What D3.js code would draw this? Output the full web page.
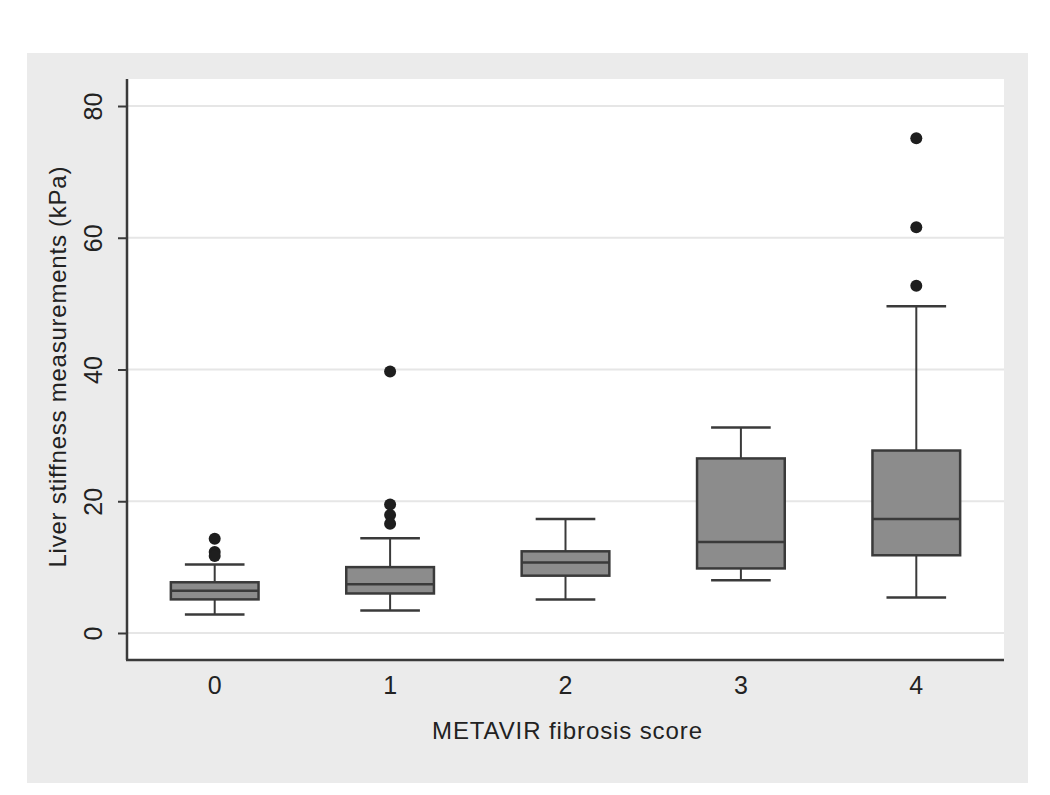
<!DOCTYPE html>
<html lang="en">
<head>
<meta charset="UTF-8">
<title>chart</title>
<style>
  body { margin: 0; background: #fff; }
  svg text { font-family: "Liberation Sans", Arial, sans-serif; fill: #222; }
</style>
</head>
<body>
<script src="https://d3js.org/d3.v7.min.js"></script>
<script>
// data
const categories = ['0', '1', '2', '3', '4'];
const whiskerLow = [2.8, 3.4, 5.1, 8.0, 5.4];
const q1 = [5.1, 6.0, 8.7, 9.8, 11.8];
const median = [6.4, 7.4, 10.7, 13.8, 17.3];
const q3 = [7.7, 10.0, 12.4, 26.5, 27.7];
const whiskerHigh = [10.4, 14.4, 17.3, 31.2, 49.6];
const outliers = [
  [14.3, 12.3, 11.7],
  [39.7, 19.5, 17.9, 16.6],
  [],
  [],
  [75.1, 61.6, 52.7]
];
const yTicks = [0, 20, 40, 60, 80];

const width = 1050, height = 795;
const svg = d3.select('body').append('svg')
  .attr('width', width)
  .attr('height', height);

// grey outer panel
svg.append('rect')
  .attr('x', 27).attr('y', 53)
  .attr('width', 1001).attr('height', 730)
  .attr('fill', '#ebebeb');

const plotL = 127, plotR = 1004, plotT = 79, plotB = 660;

// white plot region
svg.append('rect')
  .attr('x', plotL).attr('y', plotT)
  .attr('width', plotR - plotL).attr('height', plotB - plotT)
  .attr('fill', '#fff');

const x = d3.scaleBand().domain(categories).range([plotL, plotR]).padding(0);
const y = d3.scaleLinear().domain([-4.1, 84.1]).range([plotB, plotT]);

// gridlines
svg.append('g').selectAll('line')
  .data(yTicks)
  .join('line')
  .attr('x1', plotL).attr('x2', plotR)
  .attr('y1', d => y(d)).attr('y2', d => y(d))
  .attr('stroke', '#e6e6e6')
  .attr('stroke-width', 2);

const boxes = categories.map((c, i) => ({
  c, lo: whiskerLow[i], q1: q1[i], med: median[i], q3: q3[i], hi: whiskerHigh[i], out: outliers[i]
}));

const boxW = x.bandwidth() * 0.5;
const capW = x.bandwidth() * 0.34;
const stroke = '#3a3a3a';

const g = svg.append('g').selectAll('g')
  .data(boxes)
  .join('g')
  .attr('transform', d => `translate(${x(d.c) + x.bandwidth() / 2},0)`);

// whiskers
g.append('line')
  .attr('x1', 0).attr('x2', 0)
  .attr('y1', d => y(d.hi)).attr('y2', d => y(d.q3))
  .attr('stroke', stroke).attr('stroke-width', 2);
g.append('line')
  .attr('x1', 0).attr('x2', 0)
  .attr('y1', d => y(d.q1)).attr('y2', d => y(d.lo))
  .attr('stroke', stroke).attr('stroke-width', 2);
// caps
g.append('line')
  .attr('x1', -capW / 2).attr('x2', capW / 2)
  .attr('y1', d => y(d.hi)).attr('y2', d => y(d.hi))
  .attr('stroke', stroke).attr('stroke-width', 2.5);
g.append('line')
  .attr('x1', -capW / 2).attr('x2', capW / 2)
  .attr('y1', d => y(d.lo)).attr('y2', d => y(d.lo))
  .attr('stroke', stroke).attr('stroke-width', 2.5);
// box
g.append('rect')
  .attr('x', -boxW / 2)
  .attr('width', boxW)
  .attr('y', d => y(d.q3))
  .attr('height', d => y(d.q1) - y(d.q3))
  .attr('fill', '#8c8c8c')
  .attr('stroke', stroke)
  .attr('stroke-width', 2.5);
// median
g.append('line')
  .attr('x1', -boxW / 2).attr('x2', boxW / 2)
  .attr('y1', d => y(d.med)).attr('y2', d => y(d.med))
  .attr('stroke', stroke).attr('stroke-width', 2.5);
// outliers
g.selectAll('circle')
  .data(d => d.out)
  .join('circle')
  .attr('cx', 0)
  .attr('cy', d => y(d))
  .attr('r', 6)
  .attr('fill', '#1e1e1e');

// y axis
const yAxis = svg.append('g')
  .attr('transform', `translate(${plotL},0)`)
  .call(d3.axisLeft(y).tickValues(yTicks).tickSize(9).tickPadding(0));
yAxis.select('.domain').remove();
yAxis.selectAll('.tick line').attr('stroke', stroke).attr('stroke-width', 2);
yAxis.selectAll('.tick text')
  .attr('x', 0).attr('dy', null)
  .attr('transform', 'translate(-25,0) rotate(-90)')
  .attr('text-anchor', 'middle')
  .style('font-size', '25px')
  .style('font-family', '"Liberation Sans", Arial, sans-serif')
  .style('fill', '#222');

// x axis
const xAxis = svg.append('g')
  .attr('transform', `translate(0,${plotB})`)
  .call(d3.axisBottom(x).tickSize(0).tickPadding(16));
xAxis.select('.domain').remove();
xAxis.selectAll('.tick text')
  .style('font-size', '25px')
  .style('font-family', '"Liberation Sans", Arial, sans-serif')
  .style('fill', '#222');

// axis lines
svg.append('line')
  .attr('x1', plotL).attr('x2', plotL)
  .attr('y1', plotT).attr('y2', plotB)
  .attr('stroke', stroke).attr('stroke-width', 2.5);
svg.append('line')
  .attr('x1', plotL - 1).attr('x2', plotR)
  .attr('y1', plotB).attr('y2', plotB)
  .attr('stroke', stroke).attr('stroke-width', 2.5);

// titles
svg.append('text')
  .attr('x', 567).attr('y', 739)
  .attr('text-anchor', 'middle')
  .attr('textLength', 270)
  .style('font-size', '24px')
  .text('METAVIR fibrosis score');

svg.append('text')
  .attr('transform', 'translate(66,367) rotate(-90)')
  .attr('text-anchor', 'middle')
  .attr('textLength', 401)
  .style('font-size', '24px')
  .text('Liver stiffness measurements (kPa)');
</script>
</body>
</html>
